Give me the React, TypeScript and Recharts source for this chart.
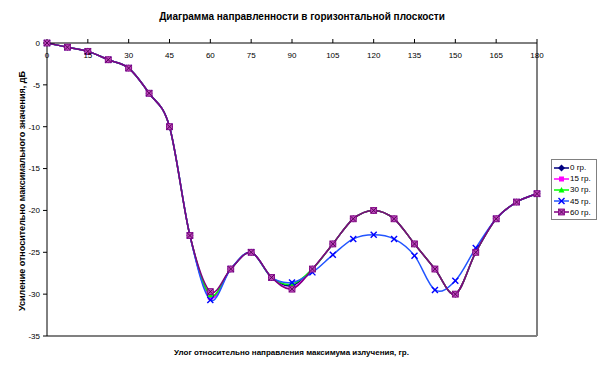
import React from 'react';
import { LineChart, Line, XAxis, YAxis, Legend, ReferenceLine } from 'recharts';

const angles = [0, 7.5, 15, 22.5, 30, 37.5, 45, 52.5, 60, 67.5, 75, 82.5, 90, 97.5, 105, 112.5, 120, 127.5, 135, 142.5, 150, 157.5, 165, 172.5, 180];

const gr0 = [0, -0.5, -1, -2, -3, -6, -10, -23, -30.2, -27, -25, -28, -29.0, -27, -24, -21, -20, -21, -24, -27, -30, -25, -21, -19, -18];
const gr15 = [0, -0.5, -1, -2, -3, -6, -10, -23, -30.4, -27, -25, -28, -29.3, -27, -24, -21, -20, -21, -24, -27, -30, -25, -21, -19, -18];
const gr30 = [0, -0.5, -1, -2, -3, -6, -10, -23, -30.1, -27, -25, -28, -28.8, -27, -24, -21, -20, -21, -24, -27, -30, -25, -21, -19, -18];
const gr45 = [0, -0.5, -1, -2, -3, -6, -10, -23, -30.7, -27, -25, -28, -28.6, -27.4, -25.3, -23.4, -22.9, -23.4, -25.4, -29.5, -28.4, -24.5, -21, -19, -18];
const gr60 = [0, -0.5, -1, -2, -3, -6, -10, -23, -29.7, -27, -25, -28, -29.4, -27, -24, -21, -20, -21, -24, -27, -30, -25, -21, -19, -18];

const xTicks = [0, 15, 30, 45, 60, 75, 90, 105, 120, 135, 150, 165, 180];
const yTicks = [0, -5, -10, -15, -20, -25, -30, -35];

const seriesNames = ['0 гр.', '15 гр.', '30 гр.', '45 гр.', '60 гр.'];

const data = angles.map((a, i) => ({
  angle: a,
  g0: gr0[i],
  g15: gr15[i],
  g30: gr30[i],
  g45: gr45[i],
  g60: gr60[i],
}));

const FONT = '"Liberation Sans", Arial, sans-serif';

// Excel-style smoothing: Catmull-Rom through the points as cubic beziers
const excelSmooth = (context: any) => {
  let pts: number[][] = [];
  return {
    areaStart() {},
    areaEnd() {},
    lineStart() {
      pts = [];
    },
    point(x: number, y: number) {
      pts.push([+x, +y]);
    },
    lineEnd() {
      if (!pts.length) return;
      context.moveTo(pts[0][0], pts[0][1]);
      for (let i = 0; i < pts.length - 1; i++) {
        const p0 = pts[i - 1] || pts[i];
        const p1 = pts[i];
        const p2 = pts[i + 1];
        const p3 = pts[i + 2] || pts[i + 1];
        context.bezierCurveTo(
          p1[0] + (p2[0] - p0[0]) / 6,
          p1[1] + (p2[1] - p0[1]) / 6,
          p2[0] - (p3[0] - p1[0]) / 6,
          p2[1] - (p3[1] - p1[1]) / 6,
          p2[0],
          p2[1]
        );
      }
    },
  };
};

const Marker = ({ kind, cx, cy }: { kind: string; cx: number; cy: number }) => {
  if (kind === 'g0') {
    return <polygon points={`${cx},${cy - 3.5} ${cx + 3.5},${cy} ${cx},${cy + 3.5} ${cx - 3.5},${cy}`} fill="#000080" />;
  }
  if (kind === 'g15') {
    return <rect x={cx - 2.5} y={cy - 2.5} width={5} height={5} fill="#FF00FF" />;
  }
  if (kind === 'g30') {
    return <polygon points={`${cx},${cy - 3} ${cx + 3},${cy + 2.5} ${cx - 3},${cy + 2.5}`} fill="#00FF00" />;
  }
  if (kind === 'g45') {
    return (
      <g stroke="#0000FF" strokeWidth={1.4}>
        <line x1={cx - 3} y1={cy - 3} x2={cx + 3} y2={cy + 3} />
        <line x1={cx - 3} y1={cy + 3} x2={cx + 3} y2={cy - 3} />
      </g>
    );
  }
  return (
    <g>
      <rect x={cx - 3} y={cy - 3} width={6} height={6} fill="#B844B8" stroke="#800080" strokeWidth={0.8} />
      <line x1={cx - 2.5} y1={cy - 2.5} x2={cx + 2.5} y2={cy + 2.5} stroke="#500050" strokeWidth={0.9} />
      <line x1={cx - 2.5} y1={cy + 2.5} x2={cx + 2.5} y2={cy - 2.5} stroke="#500050" strokeWidth={0.9} />
    </g>
  );
};

const dotFor = (kind: string) => (props: any) => {
  const { cx, cy, index } = props;
  if (cx == null || cy == null) return <g key={`${kind}-${index}`} />;
  return (
    <g key={`${kind}-${index}`}>
      <Marker kind={kind} cx={cx} cy={cy} />
    </g>
  );
};

const series = [
  { key: 'g0', color: '#000080' },
  { key: 'g15', color: '#FF00FF' },
  { key: 'g30', color: '#00FF00' },
  { key: 'g45', color: '#2255FF' },
  { key: 'g60', color: '#800080' },
];

const TopTick = (props: any) => {
  const { x, payload } = props;
  return (
    <text x={x} y={58} textAnchor="middle" fontSize={8} fontFamily={FONT} fill="#000">
      {payload.value}
    </text>
  );
};

const renderLegend = () => (
  <div
    style={{
      border: '1px solid #808080',
      background: '#fff',
      padding: '2px 2px 1px 2px',
      fontFamily: FONT,
      fontSize: 8,
      width: 40,
    }}
  >
    {series.map((s, i) => (
      <div key={s.key} style={{ display: 'flex', alignItems: 'center', height: 11.2 }}>
        <svg width={15} height={8} style={{ marginRight: 1 }}>
          <line x1={0} y1={4} x2={15} y2={4} stroke={s.color} strokeWidth={1.5} />
          <Marker kind={s.key} cx={7.5} cy={4} />
        </svg>
        <span>{seriesNames[i]}</span>
      </div>
    ))}
  </div>
);

export default function App() {
  return (
    <div style={{ position: 'absolute', left: 0, top: 0, width: 607, height: 367, background: '#fff', fontFamily: FONT }}>
      <div style={{ position: 'absolute', left: 0, top: 11, width: 604, textAlign: 'center', fontSize: 10, fontWeight: 'bold' }}>
        Диаграмма направленности в горизонтальной плоскости
      </div>
      <div
        style={{
          position: 'absolute',
          left: 22 - 150,
          top: 191 - 6,
          width: 300,
          height: 12,
          lineHeight: '12px',
          textAlign: 'center',
          fontSize: 9,
          fontWeight: 'bold',
          transform: 'rotate(-90deg)',
        }}
      >
        Усиление относительно максимального значения, дБ
      </div>
      <div style={{ position: 'absolute', left: 0, top: 348, width: 583, textAlign: 'center', fontSize: 8, fontWeight: 'bold' }}>
        Улог относительно направления максимума излучения, гр.
      </div>
      <LineChart width={607} height={367} data={data} margin={{ top: 35, right: 70, bottom: 31, left: 8 }}>
        <XAxis
          dataKey="angle"
          type="number"
          orientation="top"
          domain={[0, 180]}
          ticks={xTicks}
          height={8}
          tickSize={4}
          tick={<TopTick />}
          axisLine={{ stroke: '#000', strokeWidth: 1 }}
          tickLine={{ stroke: '#000' }}
          interval={0}
        />
        <YAxis
          type="number"
          domain={[-35, 0]}
          ticks={yTicks}
          width={39}
          tickSize={4}
          tickMargin={3}
          interval={0}
          tick={{ fontSize: 8, fill: '#000', fontFamily: FONT }}
          axisLine={{ stroke: '#000', strokeWidth: 1 }}
          tickLine={{ stroke: '#000' }}
        />
        <ReferenceLine x={180} stroke="#808080" strokeWidth={2} />
        <ReferenceLine y={-35} stroke="#808080" strokeWidth={2} />
        {series.map((s) => (
          <Line
            key={s.key}
            dataKey={s.key}
            type={excelSmooth as any}
            stroke={s.color}
            strokeWidth={1.5}
            dot={dotFor(s.key)}
            activeDot={false}
            isAnimationActive={false}
          />
        ))}
        <Legend
          layout="vertical"
          align="center"
          verticalAlign="middle"
          content={renderLegend}
          wrapperStyle={{ left: 551, top: 159, width: 46 }}
        />
      </LineChart>
    </div>
  );
}
